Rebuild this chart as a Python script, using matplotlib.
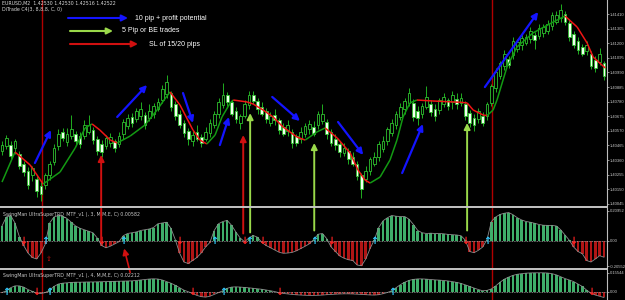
import numpy as np
import matplotlib.pyplot as plt
from matplotlib.collections import LineCollection
from matplotlib.patches import ConnectionPatch
from matplotlib.lines import Line2D

plt.rcParams['font.family'] = ['DejaVu Sans']

# свічки: середина тіла в піпсах над 1.40000
mid = [44.5, 49, 43, 47, 36, 30.5, 23, 27.5, 18, 14.5,
       21.5, 29, 39.5, 50.5, 54, 52, 56, 52.5, 50.5, 57.5,
       59, 54, 47, 44.5, 49, 50.5, 47, 50.5, 59, 63.5,
       65, 68.5, 70.5, 65, 68.5, 72, 75.5, 83, 88, 79,
       72, 65, 59, 54, 52, 54, 50.5, 54, 59, 65,
       73.5, 79, 80.5, 73.5, 68.5, 65, 72, 79, 80.5, 75.5,
       72, 68.5, 65, 66.5, 61, 57.5, 59, 52, 50.5, 54,
       57.5, 60, 57.5, 65, 66.5, 59, 52, 49, 44.5, 43,
       39.5, 36, 29, 20, 25.5, 32.5, 36, 43, 47, 54,
       59, 65, 70.5, 75.5, 80.5, 72, 68.5, 72, 78, 73.5,
       70.5, 75.5, 79, 77, 80.5, 78, 79, 72, 66.5, 63.5,
       68.5, 65, 72, 83, 93.5, 101, 108, 106.5, 116.5, 118.5,
       121, 122.5, 126, 124, 128, 129.5, 131, 136.5, 138, 141,
       138, 129.5, 122.5, 118.5, 115, 116.5, 108, 105, 109.5, 101]
# тіло свічки (піпси, + бичача, - ведмежа)
body = [4, 6, -8, 5, -9, -6, -10, 5, -9, -6,
        7, 8, 10, 9, -4, 6, 5, -5, -6, 8,
        5, -7, -9, -6, 6, 4, -5, 6, 9, 6,
        -4, 6, 5, -7, 5, 6, 5, 8, 9, -10,
        -9, -8, -7, -6, 4, -5, -4, 5, 7, 8,
        9, 7, -5, -8, -6, 5, 8, 7, -4, -6,
        -5, -6, 5, -4, -7, -5, 4, -8, -5, 5,
        6, 4, -5, 8, 5, -9, -8, -5, -6, 4,
        -6, -5, -9, -10, 6, 8, 5, 9, 6, 8,
        7, 8, 7, 6, 7, -10, -5, 6, 7, -6,
        -5, 7, 5, -4, 5, -4, 4, -9, -7, -5,
        6, -5, 8, 12, 11, 9, 8, -4, 10, 5,
        5, 4, 6, -4, 6, 4, 5, 8, 5, 6,
        -6, -10, -8, -6, -5, 4, -9, -6, 6, -9]
# верхні та нижні тіні
wick_up = [3, 2, 3, 2, 2, 2, 3, 2, 2, 3,
           2, 2, 3, 3, 3, 4, 10, 2, 3, 3,
           7, 2, 2, 3, 2, 3, 2, 3, 2, 3,
           3, 2, 5, 2, 5, 2, 3, 3, 5, 2,
           2, 3, 2, 2, 3, 5, 2, 3, 3, 2,
           3, 9, 2, 2, 3, 2, 3, 3, 3, 2,
           3, 2, 3, 4, 2, 3, 4, 2, 2, 3,
           2, 3, 4, 2, 7, 2, 2, 3, 2, 3,
           2, 3, 2, 2, 3, 2, 3, 2, 3, 2,
           3, 2, 3, 2, 4, 3, 4, 2, 8, 3,
           3, 2, 3, 2, 3, 4, 3, 2, 2, 3,
           2, 3, 2, 2, 3, 2, 3, 2, 3, 2,
           3, 2, 3, 2, 3, 2, 3, 2, 3, 4,
           2, 3, 2, 3, 2, 3, 2, 3, 4, 2]
wick_dn = [3, 2, 3, 4, 2, 3, 3, 4, 4, 5,
           3, 3, 2, 3, 2, 3, 2, 3, 3, 2,
           2, 3, 3, 3, 2, 3, 3, 2, 3, 2,
           3, 2, 3, 3, 2, 3, 2, 2, 3, 3,
           3, 2, 3, 4, 4, 2, 3, 2, 3, 2,
           3, 2, 3, 2, 3, 4, 2, 3, 2, 3,
           2, 3, 2, 3, 3, 2, 4, 3, 2, 3,
           2, 3, 2, 3, 2, 3, 2, 3, 3, 2,
           3, 2, 3, 6, 2, 3, 2, 3, 2, 3,
           2, 3, 2, 3, 2, 3, 5, 3, 2, 3,
           4, 3, 2, 3, 5, 3, 2, 3, 3, 4,
           3, 2, 3, 2, 3, 2, 3, 2, 3, 2,
           3, 2, 3, 6, 2, 3, 2, 3, 2, 3,
           2, 3, 2, 3, 2, 3, 2, 3, 2, 3]

# ковзна середня (вузли: номер свічки, піпси)
ma_x = [0, 3.0, 6.5, 9.5, 13.4, 16.9, 19.2, 20.8, 22.6, 25.0,
        26.6, 29.6, 33.0, 35.8, 37.6, 38.8, 41.1, 44.1, 45.7, 47.3,
        49.2, 50.8, 52.7, 53.4, 56.6, 58.0, 60.3, 62.6, 64.9, 68.1,
        70.0, 72.7, 74.6, 77.4, 80.4, 82.2, 83.8, 85.0, 87.3, 89.6,
        91.2, 92.6, 94.2, 95.8, 99.5, 102.8, 105.8, 107.4, 108.8, 111.1,
        112.0, 113.4, 114.3, 116.6, 118.9, 122.6, 127.3, 130.0, 132.8, 135.1,
        136.5, 139.3]
ma_p = [20.2, 41.8, 32.5, 18.8, 27.4, 44.7, 59.1, 62.0, 57.6, 50.4,
        48.3, 53.3, 61.2, 72.0, 80.0, 85.0, 75.6, 57.6, 50.4, 47.6,
        54.0, 67.0, 77.1, 79.2, 77.8, 76.3, 72.0, 67.0, 59.8, 52.6,
        50.4, 56.2, 59.1, 51.9, 41.1, 28.9, 21.7, 19.5, 23.8, 36.1,
        50.4, 67.0, 77.1, 79.2, 78.5, 78.0, 77.6, 77.1, 72.0, 68.4,
        68.0, 72.0, 79.2, 102.9, 117.3, 127.4, 135.3, 139.6, 131.7, 120.2,
        110.1, 102.2]

# гістограма SwingMan (3)
h1 = [0.10, 0.16, 0.17, 0.12, 0.03, -0.03, -0.08, -0.11, -0.12, -0.08,
      -0.02, 0.12, 0.16, 0.17, 0.165, 0.15, 0.125, 0.10, 0.085, 0.075,
      0.065, 0.055, 0.02, -0.03, -0.045, -0.035, -0.02, -0.005, 0.035, 0.05,
      0.055, 0.06, 0.07, 0.075, 0.08, 0.09, 0.115, 0.12, 0.125, 0.085,
      0.01, -0.08, -0.14, -0.15, -0.13, -0.11, -0.08, -0.04, -0.01, 0.07,
      0.115, 0.13, 0.137, 0.105, 0.06, 0.02, -0.005, 0.02, 0.037, 0.025,
      -0.01, -0.03, -0.045, -0.06, -0.075, -0.082, -0.08, -0.076, -0.065, -0.05,
      -0.035, -0.018, 0.01, 0.045, 0.05, 0.015, -0.04, -0.07, -0.10, -0.115,
      -0.125, -0.13, -0.16, -0.165, -0.12, -0.05, 0.01, 0.09, 0.135, 0.155,
      0.17, 0.165, 0.163, 0.163, 0.145, 0.11, 0.07, 0.055, 0.05, 0.052,
      0.05, 0.05, 0.048, 0.044, 0.042, 0.04, 0.035, 0.005, -0.07, -0.078,
      -0.062, -0.04, 0.01, 0.13, 0.16, 0.177, 0.185, 0.19, 0.175, 0.155,
      0.14, 0.13, 0.125, 0.118, 0.11, 0.105, 0.104, 0.104, 0.10, 0.075,
      0.04, 0.005, -0.04, -0.07, -0.085, -0.13, -0.14, -0.12, -0.098, -0.108]
# гістограма SwingMan (4)
h2 = [-0.005, 0.01, 0.035, 0.05, 0.05, 0.04, 0.02, 0.005, -0.01, -0.012,
      -0.005, 0.015, 0.045, 0.065, 0.072, 0.075, 0.078, 0.08, 0.08, 0.081,
      0.082, 0.082, 0.083, 0.084, 0.085, 0.086, 0.087, 0.088, 0.089, 0.09,
      0.091, 0.094, 0.098, 0.102, 0.106, 0.108, 0.106, 0.098, 0.085, 0.072,
      0.055, 0.035, 0.015, 0.002, -0.012, -0.028, -0.038, -0.042, -0.035, -0.02,
      -0.005, 0.01, 0.03, 0.04, 0.042, 0.04, 0.037, 0.034, 0.03, 0.026,
      0.022, 0.016, 0.01, 0.003, -0.006, -0.012, -0.016, -0.02, -0.023, -0.025,
      -0.027, -0.028, -0.028, -0.027, -0.025, -0.022, -0.02, -0.018, -0.016, -0.015,
      -0.015, -0.016, -0.018, -0.02, -0.022, -0.024, -0.025, -0.022, -0.014, -0.004,
      0.01, 0.035, 0.06, 0.08, 0.095, 0.103, 0.107, 0.107, 0.105, 0.102,
      0.099, 0.097, 0.094, 0.09, 0.085, 0.078, 0.07, 0.058, 0.045, 0.032,
      0.02, 0.01, 0.013, 0.025, 0.05, 0.08, 0.105, 0.122, 0.136, 0.145,
      0.15, 0.154, 0.156, 0.157, 0.157, 0.157, 0.155, 0.15, 0.14, 0.125,
      0.11, 0.098, 0.085, 0.065, 0.045, 0.015, -0.01, -0.025, -0.035, -0.045]

# сигнальні стрілки на нульовій лінії
up1 = [10, 28, 49, 57, 72, 86, 112]
down1 = [5, 23, 41, 56, 60, 76, 107, 132]
up2 = [1, 11, 51, 90]
down2 = [8, 44, 64, 136]

# вертикальні лінії (номер свічки)
vlines_at = [9.24, 113.2]

price_ticks = [141.0 - 10.5 * k for k in range(14)]

W, H = 625, 300
fig = plt.figure(figsize=(W / 100, H / 100), dpi=100, facecolor='black')


def box(x0, y0, x1, y1):
    return [x0 / W, 1 - y1 / H, (x1 - x0) / W, (y1 - y0) / H]


ax = fig.add_axes(box(0, 0, 607, 206))
ax1 = fig.add_axes(box(0, 208, 607, 268))
ax2 = fig.add_axes(box(0, 270, 607, 300))

for a in (ax, ax1, ax2):
    a.set_facecolor('black')
    a.set_xlim(-0.46, 139.7)
    a.set_xticks([])
    for s in ('left', 'top', 'bottom'):
        a.spines[s].set_visible(False)
    a.spines['right'].set_color('#bdbdbd')
    a.spines['right'].set_linewidth(0.8)
    a.yaxis.tick_right()
    a.tick_params(axis='y', colors='#c8c8c8', labelsize=3.0, length=1.5,
                  width=0.5, pad=0.6)
    for xv in vlines_at:
        a.axvline(xv, color='#b00000', lw=1, zorder=1)

# Крок 1: свічки
x = np.arange(len(mid))
m, b = np.array(mid), np.array(body)
o = m - b / 2
c = m + b / 2
top = np.maximum(o, c)
bot = np.minimum(o, c)
ax.vlines(x, bot - np.array(wick_dn), top + np.array(wick_up),
          color='#1fae1f', lw=0.7, zorder=2)
ax.bar(x, top - bot, bottom=bot, width=0.62,
       color=np.where(b > 0, 'black', '#f2fff0'),
       edgecolor='#2fc02f', lw=0.6, zorder=3)

# Крок 2: ковзна середня, червона при спаданні
pts = np.column_stack([ma_x, ma_p])
segs = np.stack([pts[:-1], pts[1:]], axis=1)
cols = ['#f01515' if q < p else '#139a13' for p, q in zip(ma_p[:-1], ma_p[1:])]
ax.add_collection(LineCollection(segs, colors=cols, lw=1.1, zorder=4))

ax.set_ylim(3.0, 151.1)
ax.set_yticks(price_ticks)
ax.set_yticklabels([f'{1.4 + v / 10000:.5f}' for v in price_ticks],
                   family='Liberation Sans')

# Крок 3: гістограми
for a, vals, ups, downs in ((ax1, h1, up1, down1), (ax2, h2, up2, down2)):
    v = np.array(vals)
    a.bar(x, v, width=0.6, color=np.where(v >= 0, '#3fae6a', '#b01515'), zorder=2)
    a.plot(x, v, color='#8c8c8c', lw=0.6, zorder=3)
    a.axhline(0, color='#a0a0a0', lw=0.6, ls=(0, (1, 1)), zorder=3)
    for i in ups:
        a.text(i, 0, '↑', color='#30c8ff', fontsize=7, fontweight='bold',
               ha='center', va='center', zorder=5)
    for i in downs:
        a.text(i, 0, '↓', color='#ff2020', fontsize=7, fontweight='bold',
               ha='center', va='center', zorder=5)

ax1.set_ylim(-0.18, 0.22)
ax1.set_yticks([0.20, 0, -0.167])
ax1.set_yticklabels(['0.20952', '0.00', '-0.20552'], family='Liberation Sans')
ax1.text(10.7, -0.12, '⇧', color='#d01010', fontsize=5, ha='center', va='center')
ax2.set_ylim(-0.0656, 0.18)
ax2.set_yticks([0.156, 0])
ax2.set_yticklabels(['0.15544', '0.00'], family='Liberation Sans')

ax1.text(0.005, 0.95, 'SwingMan UltraSuperTRD_MTF_v1 (, 3, M,M,E, C) 0.00582',
         transform=ax1.transAxes, color='#c8c8c8', fontsize=3.4, va='top')
ax2.text(0.005, 0.93, 'SwingMan UltraSuperTRD_MTF_v1 (, 4, M,M,E, C) 0.02212',
         transform=ax2.transAxes, color='#c8c8c8', fontsize=3.4, va='top')

# роздільники панелей
for yp in (207, 269):
    fig.add_artist(Line2D([0, 607 / W], [1 - yp / H] * 2, color='#c4c4c4',
                          lw=1.4, transform=fig.transFigure))

# Крок 4: стрілки-позначки
BLUE, GREEN, RED = '#1414ff', '#9ad94a', '#d01010'


def arrow(p0, a0, p1, a1, color, lw=1.6):
    fig.add_artist(ConnectionPatch(xyA=p0, coordsA=a0.transData,
                                   xyB=p1, coordsB=a1.transData,
                                   arrowstyle='-|>', mutation_scale=9,
                                   color=color, lw=lw, shrinkA=0, shrinkB=0))


blue_arrows = [((7.6, 33.9), (11.3, 57.6)), ((26.6, 67), (33.5, 90)),
               ((41.8, 84.2), (44.1, 62.7)), ((50.3, 46.8), (52.4, 67)),
               ((62.4, 81.4), (68.8, 64.1)), ((77.6, 63.4), (83.4, 39.7)),
               ((92.4, 26.7), (97.2, 61.9)), ((111.5, 88.5), (123.8, 142.5))]
for p0, p1 in blue_arrows:
    arrow(p0, ax, p1, ax, BLUE)

green_arrows = [((57.3, 0.057), (57.3, 69.8)), ((72.1, 0.07), (72.1, 48.3)),
                ((107.4, 0.07), (107.4, 62.7))]
for p0, p1 in green_arrows:
    arrow(p0, ax1, p1, ax, GREEN, 1.4)

red_arrows = [((22.9, 0.0), (22.9, 39.7)), ((55.7, 0.05), (55.7, 54.0))]
for p0, p1 in red_arrows:
    arrow(p0, ax1, p1, ax, RED, 1.4)
arrow((29.6, -0.21), ax1, (28.2, -0.05), ax1, RED, 1.2)

# легенда
leg = [(BLUE, 68, 128, 18, 135, '10 pip + profit potential'),
       (GREEN, 70, 113, 31, 122, '5 Pip or BE trades'),
       (RED, 70, 138, 44, 149, 'SL of 15/20 pips')]
for col, xa, xb, yy, xt, txt in leg:
    fig.add_artist(ConnectionPatch(xyA=(xa / W, 1 - yy / H), coordsA=fig.transFigure,
                                   xyB=(xb / W, 1 - yy / H), coordsB=fig.transFigure,
                                   arrowstyle='-|>', mutation_scale=9,
                                   color=col, lw=1.5, shrinkA=0, shrinkB=0))
    fig.text(xt / W, 1 - yy / H, txt, color='white', fontsize=5,
             family='Liberation Sans', va='center')

fig.text(2 / W, 1 - 3.5 / H, 'EURUSD,M2  1.42530 1.42530 1.42516 1.42522',
         color='#d8d8d8', fontsize=3.4, va='center')
fig.text(2 / W, 1 - 9.5 / H, 'DiTrade C4(3, 8,8,8, C, 0)',
         color='#d8d8d8', fontsize=3.4, va='center')

fig.savefig('out.png', dpi=100, facecolor='black')
